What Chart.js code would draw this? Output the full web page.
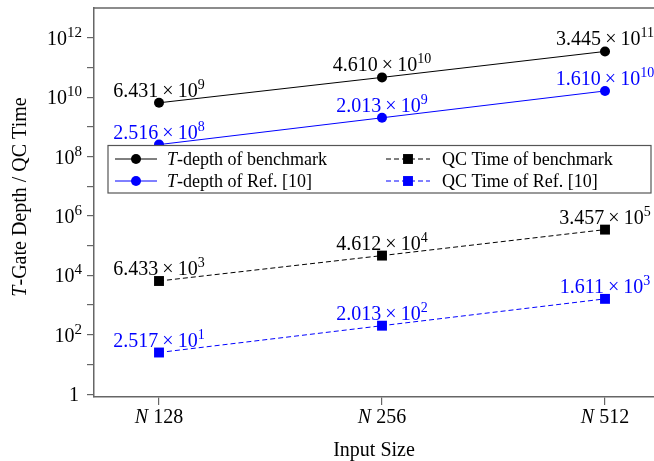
<!DOCTYPE html>
<html>
<head>
<meta charset="utf-8">
<script src="https://cdn.jsdelivr.net/npm/chart.js@4.4.1/dist/chart.umd.min.js"></script>
<style>
  html, body { margin: 0; padding: 0; background: #fff; }
  #wrap { width: 654px; height: 461px; }
</style>
</head>
<body>
<div id="wrap"><canvas id="myChart" width="654" height="461"></canvas></div>
<script>
const inputSizes = [128, 256, 512];
const tDepthBench = [6.431e9, 4.610e10, 3.445e11];
const tDepthRef = [2.516e8, 2.013e9, 1.610e10];
const qcTimeBench = [6.433e3, 4.612e4, 3.457e5];
const qcTimeRef = [2.517e1, 2.013e2, 1.611e3];
const yMajorExp = [0, 2, 4, 6, 8, 10, 12];
const yMinorExp = [1, 3, 5, 7, 9, 11];

const serif = '"Liberation Serif", "Times New Roman", serif';
const F = (size, italic) => (italic ? 'italic ' : '') + size + 'px ' + serif;

// draws text made of parts (normal / italic / superscript)
function drawRich(ctx, parts, x, y, align) {
    let w = 0;
    parts.forEach(p => {
        ctx.font = p.font;
        p.w = ctx.measureText(p.text).width;
        w += p.w;
    });
    let cx = align === 'center' ? x - w / 2 : align === 'right' ? x - w : x;
    ctx.textAlign = 'left';
    ctx.textBaseline = 'alphabetic';
    parts.forEach(p => {
        ctx.font = p.font;
        ctx.fillText(p.text, cx, y + (p.dy || 0));
        cx += p.w;
    });
}

function sciParts(v) {
    const [m, e] = v.toExponential(3).split('e');
    return [
        { text: m, font: F(20) },
        { text: '\u2009\u00d7\u2009', font: F(20) },
        { text: '10', font: F(20) },
        { text: String(parseInt(e, 10)), font: F(14), dy: -8 }
    ];
}

const extraDraw = {
    id: 'extraDraw',
    afterDraw(chart) {
        const ctx = chart.ctx;
        const area = chart.chartArea;
        const xs = chart.scales.x, ys = chart.scales.y;
        ctx.save();

        // top frame line
        ctx.strokeStyle = '#666';
        ctx.lineWidth = 1.5;
        ctx.beginPath();
        ctx.moveTo(area.left, area.top);
        ctx.lineTo(chart.width, area.top);
        ctx.stroke();

        // y tick labels
        ctx.fillStyle = '#000';
        yMajorExp.forEach(e => {
            const py = ys.getPixelForValue(Math.pow(10, e));
            if (e === 0) {
                drawRich(ctx, [{ text: '1', font: F(20) }], 79, py + 7, 'right');
            } else {
                drawRich(ctx, [
                    { text: '10', font: F(20) },
                    { text: String(e), font: F(15), dy: -8 }
                ], 82, py + 7, 'right');
            }
        });

        // x tick labels
        inputSizes.forEach((n, i) => {
            const px = xs.getPixelForValue(i);
            drawRich(ctx, [
                { text: 'N', font: F(20, true) },
                { text: ' ' + n, font: F(20) }
            ], px, 423, 'center');
        });

        // axis titles
        drawRich(ctx, [{ text: 'Input Size', font: F(20) }], (area.left + area.right) / 2, 456, 'center');
        ctx.save();
        ctx.translate(26, 197);
        ctx.rotate(-Math.PI / 2);
        drawRich(ctx, [
            { text: 'T', font: F(20, true) },
            { text: '-Gate Depth / QC Time', font: F(20) }
        ], 0, 0, 'center');
        ctx.restore();

        // value labels
        chart.data.datasets.forEach((ds, di) => {
            const meta = chart.getDatasetMeta(di);
            ctx.fillStyle = ds.borderColor;
            meta.data.forEach((pt, i) => {
                drawRich(ctx, sciParts(ds.data[i].y), pt.x, pt.y - 6, 'center');
            });
        });

        // legend
        const box = { l: 108, t: 145.5, r: 651, b: 193 };
        ctx.fillStyle = '#fff';
        ctx.fillRect(box.l, box.t, box.r - box.l, box.b - box.t);
        ctx.strokeStyle = '#555';
        ctx.lineWidth = 1.2;
        ctx.strokeRect(box.l, box.t, box.r - box.l, box.b - box.t);
        const cols = [{ x0: 115, x1: 157, tx: 167 }, { x0: 386, x1: 430, tx: 442 }];
        const rows = [159, 181];
        const order = [[0, 0, 0], [1, 0, 1], [2, 1, 0], [3, 1, 1]];
        order.forEach(([di, c, r]) => {
            const ds = chart.data.datasets[di];
            const col = cols[c], y = rows[r];
            ctx.strokeStyle = ds.borderColor;
            ctx.lineWidth = ds.borderWidth;
            ctx.setLineDash(ds.borderDash || []);
            ctx.beginPath();
            ctx.moveTo(col.x0, y);
            ctx.lineTo(col.x1, y);
            ctx.stroke();
            ctx.setLineDash([]);
            ctx.fillStyle = ds.pointBackgroundColor;
            Chart.helpers.drawPoint(ctx, {
                pointStyle: ds.pointStyle, radius: ds.pointRadius, borderWidth: 0, rotation: 0
            }, (col.x0 + col.x1) / 2, y);
            ctx.fillStyle = '#000';
            drawRich(ctx, ds.legendParts, col.tx, y + 6, 'left');
        });

        ctx.restore();
    }
};

const toPoints = arr => arr.map((v, i) => ({ x: i, y: v }));

const ctx = document.getElementById('myChart').getContext('2d');
const depthChart = new Chart(ctx, {
    type: 'line',
    data: {
        datasets: [{
            label: 'T-depth of benchmark',
            legendParts: [{ text: 'T', font: F(18, true) }, { text: '-depth of benchmark', font: F(18) }],
            data: toPoints(tDepthBench),
            borderColor: '#000000',
            pointBackgroundColor: '#000000',
            borderWidth: 1,
            pointStyle: 'circle',
            pointRadius: 5,
            pointBorderWidth: 0
        }, {
            label: 'T-depth of Ref. [10]',
            legendParts: [{ text: 'T', font: F(18, true) }, { text: '-depth of Ref. [10]', font: F(18) }],
            data: toPoints(tDepthRef),
            borderColor: '#0000ff',
            pointBackgroundColor: '#0000ff',
            borderWidth: 1,
            pointStyle: 'circle',
            pointRadius: 5,
            pointBorderWidth: 0
        }, {
            label: 'QC Time of benchmark',
            legendParts: [{ text: 'QC Time of benchmark', font: F(18) }],
            data: toPoints(qcTimeBench),
            borderColor: '#000000',
            pointBackgroundColor: '#000000',
            borderWidth: 1,
            borderDash: [5, 3],
            pointStyle: 'rect',
            pointRadius: 7,
            pointBorderWidth: 0
        }, {
            label: 'QC Time of Ref. [10]',
            legendParts: [{ text: 'QC Time of Ref. [10]', font: F(18) }],
            data: toPoints(qcTimeRef),
            borderColor: '#0000ff',
            pointBackgroundColor: '#0000ff',
            borderWidth: 1,
            borderDash: [5, 3],
            pointStyle: 'rect',
            pointRadius: 7,
            pointBorderWidth: 0
        }]
    },
    options: {
        responsive: false,
        animation: false,
        layout: { autoPadding: false, padding: { top: 8, left: 0, right: 0, bottom: 0 } },
        plugins: {
            legend: { display: false },
            tooltip: { enabled: false }
        },
        scales: {
            x: {
                type: 'linear',
                position: 'bottom',
                min: -0.2915,
                max: 2.2197,
                afterBuildTicks: s => { s.ticks = inputSizes.map((n, i) => ({ value: i })); },
                afterFit: s => { s.height = 64; },
                ticks: { display: false },
                grid: { drawOnChartArea: false, drawTicks: true, tickLength: 8, color: '#666', lineWidth: 1.2 },
                border: { display: true, color: '#666', width: 1.5 }
            },
            y: {
                type: 'logarithmic',
                position: 'left',
                min: 0.8,
                max: 1e13,
                afterBuildTicks: s => {
                    s.ticks = yMajorExp.concat(yMinorExp).sort((a, b) => a - b)
                        .map(e => ({ value: Math.pow(10, e) }));
                },
                afterFit: s => { s.width = 94; },
                ticks: { display: false },
                grid: { drawOnChartArea: false, drawTicks: true, tickLength: 7, color: '#666', lineWidth: 1.2 },
                border: { display: true, color: '#666', width: 1.5 }
            }
        }
    },
    plugins: [extraDraw]
});
</script>
</body>
</html>
